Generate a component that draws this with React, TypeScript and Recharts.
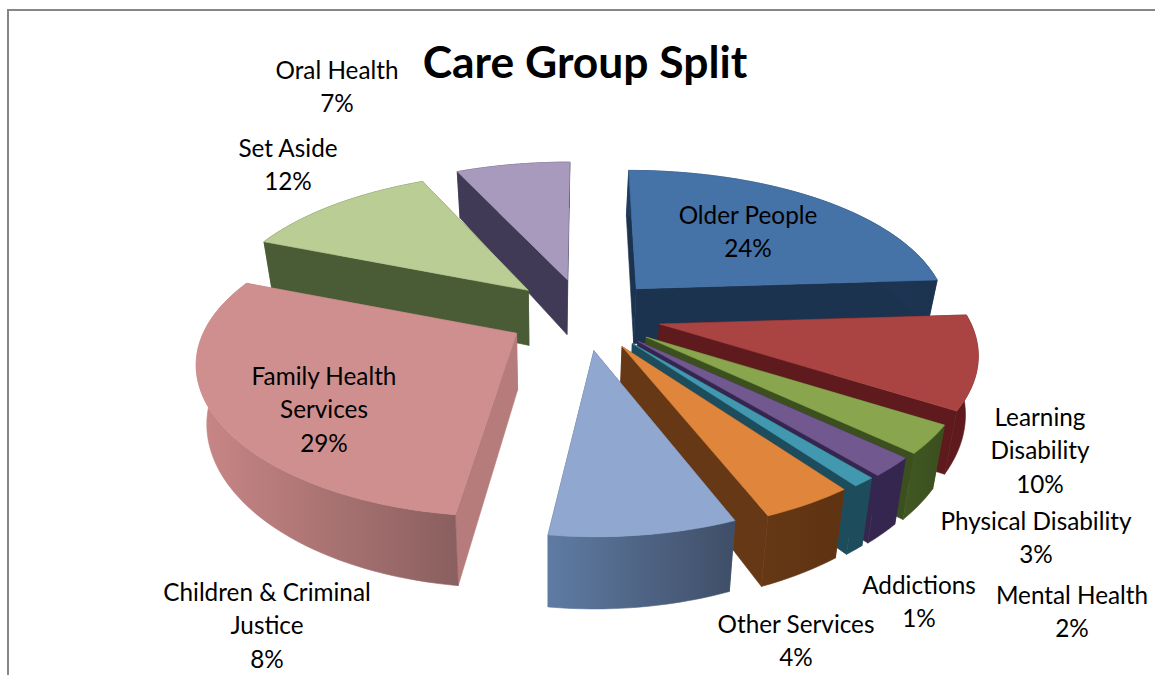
import { Pie, PieChart } from 'recharts'

const CATEGORIES = [
  'Older People',
  'Learning Disability',
  'Physical Disability',
  'Mental Health',
  'Addictions',
  'Other Services',
  'Children & Criminal Justice',
  'Family Health Services',
  'Set Aside',
  'Oral Health',
]
const SHARES = [24, 10, 3, 2, 1, 4, 8, 29, 12, 7]

// how each label wraps, same order as CATEGORIES
const LABEL_LINES = [
  ['Older People'],
  ['Learning', 'Disability'],
  ['Physical Disability'],
  ['Mental Health'],
  ['Addictions'],
  ['Other Services'],
  ['Children & Criminal', 'Justice'],
  ['Family Health', 'Services'],
  ['Set Aside'],
  ['Oral Health'],
]
const LABEL_X = [748, 1040, 1036, 1072, 919, 796, 267, 324, 288, 337]
const LABEL_Y = [214, 416, 520, 594, 584, 623, 591, 375, 147, 69]

const TOP_COLORS = ['#4572A7', '#A94442', '#89A54E', '#71588F', '#4198AF', '#DF863C', '#90A8D0', '#CF8F8E', '#B9CD94', '#A79ABD']
const WALL_LEFT = ['#1F3B5E', '#5E1A1C', '#415822', '#35264F', '#1D4C5C', '#663815', '#5F7BA3', '#C98786', '#4A5C35', '#403A57']
const WALL_RIGHT = ['#1C3350', '#5E1A1C', '#3B4F1F', '#35264F', '#1D4C5C', '#5E3312', '#3F4E67', '#8A5F5F', '#4A5C35', '#403A57']
const CUT_COLORS = ['#1C3350', '#5E1A1C', '#3B4F1F', '#35264F', '#1D4C5C', '#663815', '#4A5A78', '#B67C7B', '#4A5C35', '#403A57']

// back slices first so the front ones paint over their walls
const PAINT_LAYERS = [[9], [0, 8], [1, 2, 3, 4, 5, 6, 7]]

const TILT = 0.465
const PERSPECTIVE_X = 0.17
const PERSPECTIVE_Y = 0.2
const EXPLODE = 0.25
const DEPTH = 56
const BASE_SHRINK = 0.97
const VANISH_X = 550

const pieData = CATEGORIES.map((name, i) => ({ name, value: SHARES[i] }))
const FONT = 'Lato, sans-serif'

const round = (n: number) => Math.round(n * 100) / 100

function SliceShape(props: any) {
  const { cx, cy, outerRadius, startAngle, endAngle, index } = props
  const a0 = (90 - Math.max(startAngle, endAngle)) * (Math.PI / 180)
  const a1 = (90 - Math.min(startAngle, endAngle)) * (Math.PI / 180)
  const mid = (a0 + a1) / 2
  const offsetX = outerRadius * EXPLODE * Math.sin(mid)
  const offsetY = EXPLODE * Math.cos(mid)
  const oy = cy - outerRadius * TILT * offsetY

  const top = (r: number, a: number) => {
    const X = r * Math.sin(a)
    const Y = r * Math.cos(a)
    const depthY = Y + offsetY / 2
    const fx = 1 / (1 + PERSPECTIVE_X * depthY)
    const f = 1 / (1 + PERSPECTIVE_Y * depthY)
    return { x: cx + (offsetX + outerRadius * X) * fx, y: oy - outerRadius * TILT * Y * f, f }
  }
  const bottom = (p: { x: number; y: number; f: number }) => ({
    x: VANISH_X + (p.x - VANISH_X) * BASE_SHRINK,
    y: p.y + DEPTH * p.f,
  })
  const path = (pts: { x: number; y: number }[]) =>
    'M' + pts.map((p) => `${round(p.x)},${round(p.y)}`).join('L') + 'Z'

  const steps = Math.max(2, Math.ceil((a1 - a0) / 0.03))
  const arc = Array.from({ length: steps + 1 }, (_, i) => top(1, a0 + ((a1 - a0) * i) / steps))
  const apex = top(0, 0)
  const gradientId = `wall-${index}`
  const wallFill = `url(#${gradientId})`

  return (
    <g>
      <defs>
        <linearGradient id={gradientId} x1="0" x2="1" y1="0" y2="0">
          <stop offset="0%" stopColor={WALL_LEFT[index]} />
          <stop offset="100%" stopColor={WALL_RIGHT[index]} />
        </linearGradient>
      </defs>
      <path d={path([apex, arc[0], bottom(arc[0]), bottom(apex)])} fill={CUT_COLORS[index]} stroke={CUT_COLORS[index]} strokeWidth={0.6} />
      <path d={path([apex, arc[steps], bottom(arc[steps]), bottom(apex)])} fill={CUT_COLORS[index]} stroke={CUT_COLORS[index]} strokeWidth={0.6} />
      <path d={path([...arc, ...arc.map(bottom).reverse()])} fill={wallFill} stroke={wallFill} strokeWidth={0.6} />
      <path d={path([apex, ...arc])} fill={TOP_COLORS[index]} stroke={TOP_COLORS[index]} strokeWidth={0.6} />
    </g>
  )
}

function renderLabel(props: any) {
  const i = props.index
  const lines = [...LABEL_LINES[i], `${SHARES[i]}%`]
  return (
    <text
      dominantBaseline="central"
      fill="#000"
      fontFamily={FONT}
      fontSize={24.3}
      key={i}
      textAnchor="middle"
      x={LABEL_X[i]}
      y={LABEL_Y[i]}
    >
      {lines.map((line, n) => (
        <tspan dy={n === 0 ? 0 : 33.3} key={line} x={LABEL_X[i]}>
          {line}
        </tspan>
      ))}
    </text>
  )
}

export default function App() {
  return (
    <div style={{ position: 'absolute', left: 0, top: 0, width: 1155, height: 675, overflow: 'hidden', background: '#fff' }}>
      <div style={{ position: 'absolute', left: 7, top: 9, width: 1160, height: 700, borderLeft: '2px solid #868686', borderTop: '2px solid #868686' }} />
      <PieChart height={675} margin={{ top: 0, right: 0, bottom: 0, left: 0 }} style={{ position: 'absolute', left: 0, top: 0 }} width={1155}>
        {PAINT_LAYERS.map((layer, n) => (
          <Pie
            cx={584}
            cy={315}
            data={pieData}
            dataKey="value"
            endAngle={-270}
            isAnimationActive={false}
            key={n}
            outerRadius={310}
            shape={(p: any) => (layer.includes(p.index) ? <SliceShape {...p} /> : <g />)}
            startAngle={90}
            stroke="none"
          />
        ))}
        <Pie
          cx={584}
          cy={315}
          data={pieData}
          dataKey="value"
          endAngle={-270}
          isAnimationActive={false}
          label={renderLabel}
          labelLine={false}
          outerRadius={310}
          shape={() => <g />}
          startAngle={90}
          stroke="none"
        />
        <text dominantBaseline="central" fill="#000" fontFamily={FONT} fontSize={44.4} fontWeight={700} textAnchor="middle" x={585} y={60}>
          Care Group Split
        </text>
      </PieChart>
    </div>
  )
}
